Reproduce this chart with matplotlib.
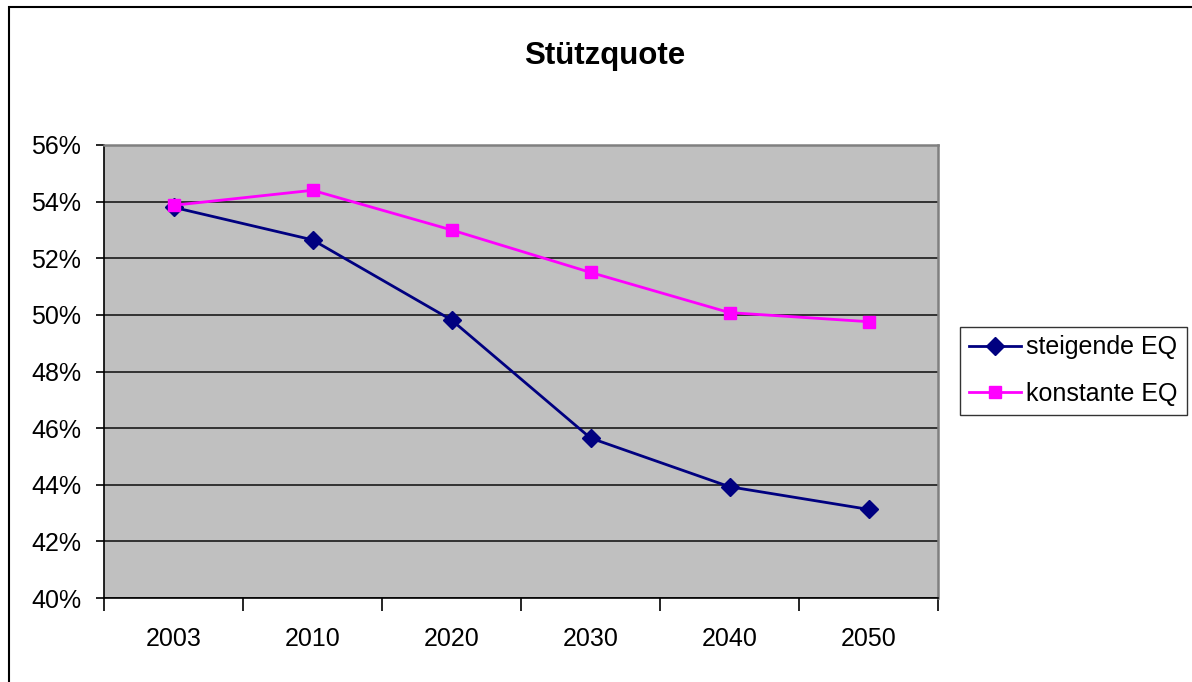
import matplotlib
matplotlib.use("Agg")
import matplotlib.pyplot as plt
from matplotlib.patches import Rectangle
from matplotlib.ticker import FixedLocator, FuncFormatter

years = ["2003", "2010", "2020", "2030", "2040", "2050"]
steigende = [53.8, 52.65, 49.82, 45.65, 43.93, 43.13]
konstante = [53.87, 54.4, 53.0, 51.5, 50.08, 49.76]

plt.rcParams['font.family'] = ['Liberation Sans', 'DejaVu Sans']

fig = plt.figure(figsize=(11.92, 6.82), dpi=100)
fig.patch.set_facecolor('white')

# outer frame
fig.patches.append(Rectangle((9/1192, -0.05), 1.2, 1 - 7/682 + 0.05,
                             transform=fig.transFigure, fill=False,
                             edgecolor='black', linewidth=1.5))

ax = fig.add_axes([104/1192, 1 - 598/682, (938-104)/1192, (598-145)/682])
ax.set_facecolor('#C0C0C0')

x = list(range(len(years)))
ax.plot(x, steigende, color='#000080', marker='D', markersize=9, linewidth=2.0,
        label='steigende EQ', zorder=3)
ax.plot(x, konstante, color='#FF00FF', marker='s', markersize=8.5, linewidth=2.0,
        label='konstante EQ', zorder=3)

ax.set_xlim(-0.5, len(years) - 0.5)
ax.set_ylim(40, 56)
ax.yaxis.set_major_locator(FixedLocator(list(range(40, 57, 2))))
ax.yaxis.set_major_formatter(FuncFormatter(lambda v, p: f"{int(round(v))}%"))
ax.grid(axis='y', color='#1a1a1a', linewidth=1.2)
ax.set_axisbelow(True)

ax.xaxis.set_major_locator(FixedLocator([i - 0.5 for i in range(len(years) + 1)]))
ax.xaxis.set_major_formatter(FuncFormatter(lambda v, p: ""))
ax.xaxis.set_minor_locator(FixedLocator(x))
ax.set_xticklabels(years, minor=True)
ax.tick_params(axis='x', which='major', length=9, width=1.2, color='black', direction='out')
ax.tick_params(axis='x', which='minor', length=0, labelsize=18, pad=21)
ax.tick_params(axis='y', length=6, width=1.2, color='black', labelsize=18, pad=10.5)

for s in ['top', 'right']:
    ax.spines[s].set_color('#808080')
    ax.spines[s].set_linewidth(1.8)
for s in ['left', 'bottom']:
    ax.spines[s].set_color('black')
    ax.spines[s].set_linewidth(1.2)

fig.text(605/1192, 1 - 56/682, 'Stützquote', ha='center', va='center',
         fontsize=22.5, fontweight='bold')

leg = fig.legend(loc='center left', bbox_to_anchor=(960/1192, 1 - 370.5/682),
                 fontsize=18, frameon=True, fancybox=False, edgecolor='black',
                 handlelength=2.1, handletextpad=0.2, borderpad=0.35,
                 labelspacing=0.9, borderaxespad=0)
leg.get_frame().set_linewidth(1.0)

fig.savefig('out.png', dpi=100, facecolor='white')
